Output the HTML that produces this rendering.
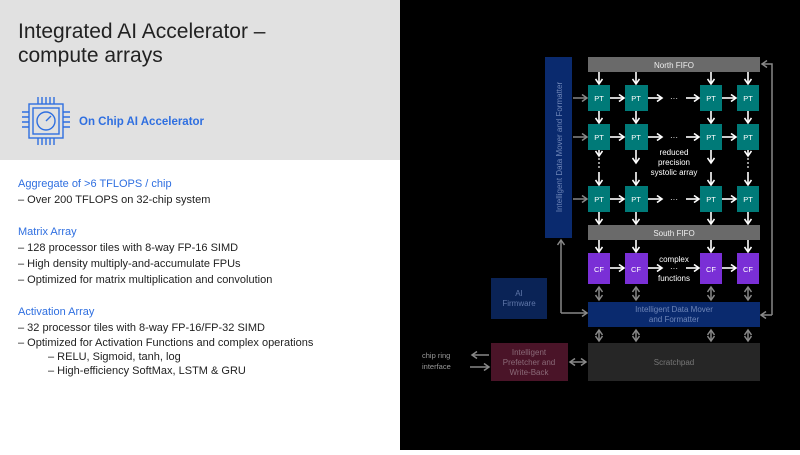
<!DOCTYPE html>
<html><head><meta charset="utf-8"><style>
body{margin:0;width:800px;height:450px;overflow:hidden;font-family:"Liberation Sans",sans-serif;}
</style></head><body>
<svg width="800" height="450" xmlns="http://www.w3.org/2000/svg" font-family="Liberation Sans, sans-serif">
<defs>
<marker id="w" markerWidth="8" markerHeight="8" refX="6" refY="4" orient="auto" markerUnits="userSpaceOnUse"><path d="M1,0.5 L6,4 L1,7.5" fill="none" stroke="#fff" stroke-width="1.6"/></marker>
<marker id="g" markerWidth="8" markerHeight="8" refX="6" refY="4" orient="auto" markerUnits="userSpaceOnUse"><path d="M1,0.5 L6,4 L1,7.5" fill="none" stroke="#888" stroke-width="1.5"/></marker>
<marker id="gs" markerWidth="8" markerHeight="8" refX="2" refY="4" orient="auto" markerUnits="userSpaceOnUse"><path d="M7,0.5 L2,4 L7,7.5" fill="none" stroke="#888" stroke-width="1.5"/></marker>
</defs>
<rect width="400" height="450" fill="#fff"/>
<rect width="400" height="160" fill="#e1e1e1"/>
<rect x="400" width="400" height="450" fill="#000"/>
<text x="18" y="38" font-size="21" fill="#222">Integrated AI Accelerator –</text>
<text x="18" y="62" font-size="21" fill="#222">compute arrays</text>
<g stroke="#2f6fe0" stroke-width="1.4" fill="none">
<rect x="29" y="104" width="34" height="34"/>
<rect x="33" y="108" width="26" height="26"/>
<circle cx="46" cy="121" r="9"/>
<path d="M46,121 L51,116"/>
<path d="M38,97v7M42,97v7M46,97v7M50,97v7M54,97v7M38,138v7M42,138v7M46,138v7M50,138v7M54,138v7M22,112h7M22,117h7M22,122h7M22,127h7M63,112h7M63,117h7M63,122h7M63,127h7"/>
</g>
<text x="79" y="125" font-size="11.5" font-weight="bold" fill="#2f6fe0">On Chip AI Accelerator</text>
<g font-size="11" fill="#222">
<text x="18" y="187" fill="#2f6fe0">Aggregate of &gt;6 TFLOPS / chip</text>
<text x="18" y="203">–   Over 200 TFLOPS on 32-chip system</text>
<text x="18" y="235" fill="#2f6fe0">Matrix Array</text>
<text x="18" y="251">–   128 processor tiles with 8-way FP-16 SIMD</text>
<text x="18" y="267">–   High density multiply-and-accumulate FPUs</text>
<text x="18" y="283">–   Optimized for matrix multiplication and convolution</text>
<text x="18" y="315" fill="#2f6fe0">Activation Array</text>
<text x="18" y="331">–   32 processor tiles with 8-way FP-16/FP-32 SIMD</text>
<text x="18" y="346">–   Optimized for Activation Functions and complex operations</text>
<text x="48" y="360">–   RELU, Sigmoid, tanh, log</text>
<text x="48" y="374">–   High-efficiency SoftMax, LSTM &amp; GRU</text>
</g>
<rect x="545" y="57" width="27" height="181" fill="#0a2a6e"/>
<text transform="translate(562,147) rotate(-90)" font-size="8" fill="#6f86b8" text-anchor="middle">Intelligent Data Mover and Formatter</text>
<rect x="588" y="57" width="172" height="15" fill="#6a6a6a"/>
<text x="674" y="68" font-size="8" fill="#eee" text-anchor="middle">North FIFO</text>
<rect x="588" y="225" width="172" height="15" fill="#6a6a6a"/>
<text x="674" y="236" font-size="8" fill="#eee" text-anchor="middle">South FIFO</text>
<g fill="#007a78">
<rect x="588" y="85" width="22" height="26"/><rect x="625" y="85" width="23" height="26"/><rect x="700" y="85" width="22" height="26"/><rect x="737" y="85" width="22" height="26"/>
<rect x="588" y="124" width="22" height="26"/><rect x="625" y="124" width="23" height="26"/><rect x="700" y="124" width="22" height="26"/><rect x="737" y="124" width="22" height="26"/>
<rect x="588" y="186" width="22" height="26"/><rect x="625" y="186" width="23" height="26"/><rect x="700" y="186" width="22" height="26"/><rect x="737" y="186" width="22" height="26"/>
</g>
<g fill="#7a2fd6">
<rect x="588" y="253" width="22" height="31"/><rect x="625" y="253" width="23" height="31"/><rect x="700" y="253" width="22" height="31"/><rect x="737" y="253" width="22" height="31"/>
</g>
<g font-size="7.5" fill="#fff" text-anchor="middle">
<text x="599" y="101">PT</text><text x="636" y="101">PT</text><text x="711" y="101">PT</text><text x="748" y="101">PT</text>
<text x="599" y="140">PT</text><text x="636" y="140">PT</text><text x="711" y="140">PT</text><text x="748" y="140">PT</text>
<text x="599" y="202">PT</text><text x="636" y="202">PT</text><text x="711" y="202">PT</text><text x="748" y="202">PT</text>
<text x="599" y="272">CF</text><text x="636" y="272">CF</text><text x="711" y="272">CF</text><text x="748" y="272">CF</text>
</g>
<g font-size="8" fill="#fff" text-anchor="middle">
<text x="674" y="155">reduced</text><text x="674" y="165">precision</text><text x="674" y="175">systolic array</text>
<text x="674" y="262">complex</text><text x="674" y="281">functions</text>
<text x="674" y="101">···</text><text x="674" y="140">···</text><text x="674" y="202">···</text><text x="674" y="271">···</text>
</g>
<g fill="#fff"><circle cx="599" cy="159" r="0.9"/><circle cx="599" cy="163" r="0.9"/><circle cx="599" cy="167" r="0.9"/><circle cx="748" cy="159" r="0.9"/><circle cx="748" cy="163" r="0.9"/><circle cx="748" cy="167" r="0.9"/></g>
<g stroke="#fff" stroke-width="1.6" marker-end="url(#w)">
<line x1="599" y1="72" x2="599" y2="84"/><line x1="636" y1="72" x2="636" y2="84"/><line x1="711" y1="72" x2="711" y2="84"/><line x1="748" y1="72" x2="748" y2="84"/>
<line x1="599" y1="111" x2="599" y2="123"/><line x1="636" y1="111" x2="636" y2="123"/><line x1="711" y1="111" x2="711" y2="123"/><line x1="748" y1="111" x2="748" y2="123"/>
<line x1="599" y1="150" x2="599" y2="156"/><line x1="748" y1="150" x2="748" y2="156"/>
<line x1="636" y1="150" x2="636" y2="163"/><line x1="711" y1="150" x2="711" y2="163"/>
<line x1="636" y1="172" x2="636" y2="185"/><line x1="711" y1="172" x2="711" y2="185"/>
<line x1="599" y1="172" x2="599" y2="185"/><line x1="748" y1="172" x2="748" y2="185"/>
<line x1="599" y1="212" x2="599" y2="224"/><line x1="636" y1="212" x2="636" y2="224"/><line x1="711" y1="212" x2="711" y2="224"/><line x1="748" y1="212" x2="748" y2="224"/>
<line x1="599" y1="240" x2="599" y2="252"/><line x1="636" y1="240" x2="636" y2="252"/><line x1="711" y1="240" x2="711" y2="252"/><line x1="748" y1="240" x2="748" y2="252"/>
<line x1="610" y1="98" x2="624" y2="98"/><line x1="648" y1="98" x2="662" y2="98"/><line x1="686" y1="98" x2="699" y2="98"/><line x1="722" y1="98" x2="736" y2="98"/>
<line x1="610" y1="137" x2="624" y2="137"/><line x1="648" y1="137" x2="662" y2="137"/><line x1="686" y1="137" x2="699" y2="137"/><line x1="722" y1="137" x2="736" y2="137"/>
<line x1="610" y1="199" x2="624" y2="199"/><line x1="648" y1="199" x2="662" y2="199"/><line x1="686" y1="199" x2="699" y2="199"/><line x1="722" y1="199" x2="736" y2="199"/>
<line x1="610" y1="268" x2="624" y2="268"/><line x1="648" y1="268" x2="662" y2="268"/><line x1="686" y1="268" x2="699" y2="268"/><line x1="722" y1="268" x2="736" y2="268"/>
</g>
<g stroke="#888" stroke-width="1.5" fill="none">
<g marker-end="url(#g)">
<line x1="573" y1="98" x2="587" y2="98"/><line x1="573" y1="137" x2="587" y2="137"/><line x1="573" y1="199" x2="587" y2="199"/>
<line x1="561" y1="313" x2="561" y2="240"/>
<line x1="561" y1="313" x2="587" y2="313"/>
<path d="M772,315V64H762"/>
<line x1="772" y1="315" x2="761" y2="315"/>
<line x1="489" y1="355" x2="472" y2="355"/>
<line x1="470" y1="367" x2="489" y2="367"/>
</g>
<g marker-start="url(#gs)" marker-end="url(#g)">
<line x1="599" y1="287" x2="599" y2="300"/><line x1="636" y1="287" x2="636" y2="300"/><line x1="711" y1="287" x2="711" y2="300"/><line x1="748" y1="287" x2="748" y2="300"/>
<line x1="599" y1="330" x2="599" y2="341"/><line x1="636" y1="330" x2="636" y2="341"/><line x1="711" y1="330" x2="711" y2="341"/><line x1="748" y1="330" x2="748" y2="341"/>
<line x1="570" y1="362" x2="586" y2="362"/>
</g>
</g>
<rect x="588" y="302" width="172" height="25" fill="#0a2a6e"/>
<text x="674" y="312" font-size="8" fill="#6f86b8" text-anchor="middle">Intelligent Data Mover</text>
<text x="674" y="322" font-size="8" fill="#6f86b8" text-anchor="middle">and Formatter</text>
<rect x="491" y="278" width="56" height="41" fill="#0a2356"/>
<text x="519" y="296" font-size="8" fill="#5f76a8" text-anchor="middle">AI</text>
<text x="519" y="306" font-size="8" fill="#5f76a8" text-anchor="middle">Firmware</text>
<rect x="588" y="343" width="172" height="38" fill="#262626"/>
<text x="674" y="365" font-size="8" fill="#777" text-anchor="middle">Scratchpad</text>
<rect x="491" y="343" width="77" height="38" fill="#4a1428"/>
<text x="529" y="355" font-size="8" fill="#8a6a78" text-anchor="middle">Intelligent</text>
<text x="529" y="365" font-size="8" fill="#8a6a78" text-anchor="middle">Prefetcher and</text>
<text x="529" y="375" font-size="8" fill="#8a6a78" text-anchor="middle">Write-Back</text>
<text x="422" y="358" font-size="7.5" fill="#999">chip ring</text>
<text x="422" y="369" font-size="7.5" fill="#999">interface</text>
</svg>
</body></html>
